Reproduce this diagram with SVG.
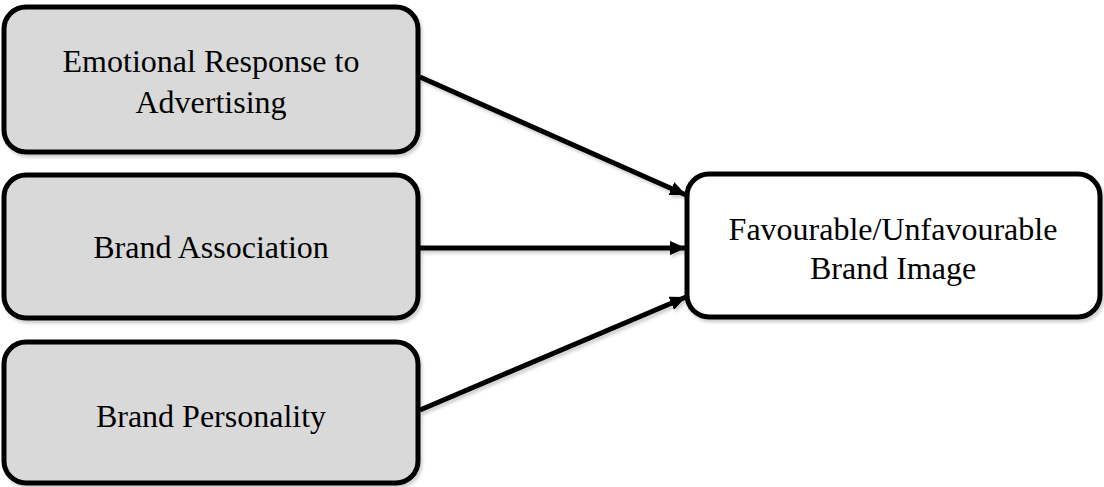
<svg xmlns="http://www.w3.org/2000/svg" width="1104" height="487" viewBox="0 0 1104 487">
  <defs>
    <filter id="shadow" x="-5%" y="-5%" width="115%" height="120%">
      <feDropShadow dx="2" dy="3" stdDeviation="1.5" flood-color="#000" flood-opacity="0.18"/>
    </filter>
    <marker id="arrow" viewBox="0 0 16 14" refX="16" refY="7" markerWidth="16" markerHeight="14" markerUnits="userSpaceOnUse" orient="auto">
      <path d="M0,0 L16,7 L0,14 Z" fill="#000"/>
    </marker>
    <style>
      .box { stroke: #000; stroke-width: 5; filter: url(#shadow); }
      .src { fill: #d9d9d9; }
      .dst { fill: #fff; }
      .label { font-family: "Liberation Serif", "Times New Roman", serif; font-size: 32px; fill: #000; text-anchor: middle; }
      .conn { stroke: #000; stroke-width: 5; fill: none; marker-end: url(#arrow); }
    </style>
  </defs>

  <!-- source constructs -->
  <g id="emotional-response">
    <rect class="box src" x="4" y="7" width="414" height="145" rx="22"/>
    <text class="label" x="211" y="72">Emotional Response to</text>
    <text class="label" x="211" y="113">Advertising</text>
  </g>

  <g id="brand-association">
    <rect class="box src" x="4" y="175" width="414" height="143" rx="22"/>
    <text class="label" x="211" y="258">Brand Association</text>
  </g>

  <g id="brand-personality">
    <rect class="box src" x="4" y="342" width="414" height="141" rx="22"/>
    <text class="label" x="211" y="427">Brand Personality</text>
  </g>

  <!-- outcome -->
  <g id="brand-image">
    <rect class="box dst" x="687" y="174" width="413" height="143" rx="22"/>
    <text class="label" x="893" y="240">Favourable/Unfavourable</text>
    <text class="label" x="893" y="279">Brand Image</text>
  </g>

  <!-- connectors (shadow applied on the group so the horizontal line keeps a non-empty filter region) -->
  <g id="connectors" filter="url(#shadow)">
    <line class="conn" x1="420" y1="77" x2="686" y2="195"/>
    <line class="conn" x1="420" y1="248" x2="686" y2="248"/>
    <line class="conn" x1="420" y1="410" x2="686" y2="297"/>
  </g>
</svg>
